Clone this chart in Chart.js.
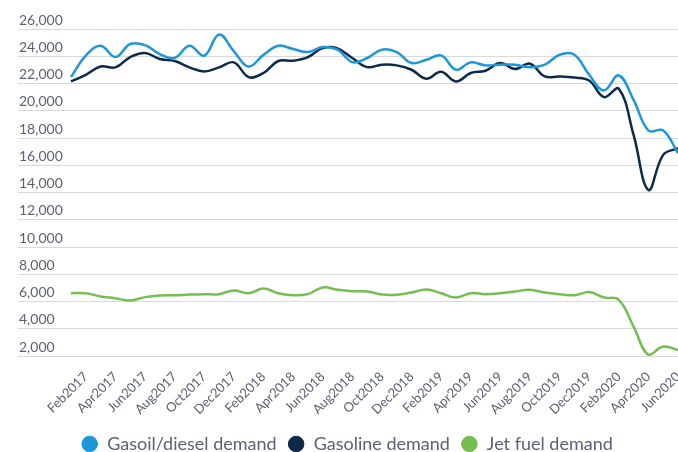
<!DOCTYPE html>
<html>
<head>
<meta charset="utf-8">
<script src="https://cdn.jsdelivr.net/npm/chart.js@4"></script>
<style>
  html, body { margin: 0; padding: 0; background: #fff; }
  #wrap { width: 678px; height: 452px; }
</style>
</head>
<body>
<div id="wrap"><canvas id="demandChart"></canvas></div>
<script>
const months = [
    'Jan2017', 'Feb2017', 'Mar2017', 'Apr2017', 'May2017', 'Jun2017', 'Jul2017', 'Aug2017', 'Sep2017', 'Oct2017', 'Nov2017', 'Dec2017',
    'Jan2018', 'Feb2018', 'Mar2018', 'Apr2018', 'May2018', 'Jun2018', 'Jul2018', 'Aug2018', 'Sep2018', 'Oct2018', 'Nov2018', 'Dec2018',
    'Jan2019', 'Feb2019', 'Mar2019', 'Apr2019', 'May2019', 'Jun2019', 'Jul2019', 'Aug2019', 'Sep2019', 'Oct2019', 'Nov2019', 'Dec2019',
    'Jan2020', 'Feb2020', 'Mar2020', 'Apr2020', 'May2020', 'Jun2020'
];

const gasoilDemand = [
    22470, 24050, 24770, 23940, 24900, 24820, 24160, 23870, 24770, 24040, 25600, 24360,
    23250, 24100, 24770, 24530, 24310, 24680, 24480, 23570, 23870, 24480, 24310, 23500,
    23740, 24060, 23010, 23550, 23330, 23380, 23380, 23200, 23380, 24110, 24110, 22640,
    21490, 22590, 20800, 18550, 18550, 16890
];

const gasolineDemand = [
    22150, 22640, 23250, 23180, 23940, 24240, 23800, 23650, 23180, 22880, 23180, 23550,
    22470, 22770, 23650, 23670, 23940, 24600, 24580, 23870, 23200, 23380, 23330, 23010,
    22350, 22860, 22150, 22770, 22940, 23500, 23060, 23450, 22520, 22520, 22440, 22220,
    21000, 21610, 18230, 14190, 16760, 17250
];

const jetFuelDemand = [
    6610, 6610, 6370, 6240, 6070, 6320, 6440, 6460, 6510, 6540, 6540, 6810,
    6610, 6955, 6610, 6460, 6540, 7030, 6860, 6760, 6740, 6510, 6490, 6660,
    6880, 6610, 6290, 6610, 6540, 6610, 6740, 6860, 6660, 6540, 6460, 6690,
    6290, 6120, 4160, 2080, 2690, 2440
];

const textColor = '#5b6172';
const fontFamily = 'Lato, "Open Sans", sans-serif';

function points(values) {
    return values.map((v, i) => ({ x: i, y: v }));
}

const ctx = document.getElementById('demandChart');

new Chart(ctx, {
    type: 'line',
    data: {
        datasets: [
            {
                label: 'Gasoil/diesel demand',
                data: points(gasoilDemand),
                borderColor: '#1d97d7',
                backgroundColor: '#1d97d7'
            },
            {
                label: 'Gasoline demand',
                data: points(gasolineDemand),
                borderColor: '#0d2a4a',
                backgroundColor: '#0d2a4a'
            },
            {
                label: 'Jet fuel demand',
                data: points(jetFuelDemand),
                borderColor: '#76bd52',
                backgroundColor: '#76bd52'
            }
        ]
    },
    options: {
        responsive: true,
        maintainAspectRatio: false,
        animation: false,
        layout: {
            padding: { left: 16, right: 0, top: 29, bottom: -11 }
        },
        elements: {
            line: { borderWidth: 2.5, tension: 0.4 },
            point: { radius: 0 }
        },
        scales: {
            x: {
                type: 'linear',
                min: -3.58,
                max: 41,
                grid: { display: false },
                border: { display: false },
                afterBuildTicks: scale => {
                    scale.ticks = months
                        .map((m, i) => ({ value: i }))
                        .filter(t => t.value % 2 === 1);
                },
                afterFit: scale => {
                    scale.paddingLeft = 0;
                    scale.paddingRight = 0;
                    scale.height = 68;
                },
                ticks: {
                    autoSkip: false,
                    minRotation: 45,
                    maxRotation: 45,
                    padding: 5,
                    color: textColor,
                    font: { family: fontFamily, size: 13 },
                    callback: value => months[value]
                }
            },
            y: {
                min: 2000,
                max: 26000,
                grid: { color: '#d9d9d9', drawTicks: false },
                border: { display: false },
                afterFit: scale => {
                    scale.paddingTop = 0;
                    scale.paddingBottom = 0;
                },
                ticks: {
                    stepSize: 2000,
                    mirror: true,
                    padding: 1,
                    labelOffset: -9,
                    color: textColor,
                    font: { family: fontFamily, size: 14 }
                }
            }
        },
        plugins: {
            legend: {
                position: 'bottom',
                labels: {
                    usePointStyle: true,
                    pointStyle: 'circle',
                    boxWidth: 17,
                    boxHeight: 11,
                    padding: 11,
                    color: '#5a6276',
                    font: { family: fontFamily, size: 18 }
                }
            },
            tooltip: { enabled: false }
        }
    }
});
</script>
</body>
</html>
